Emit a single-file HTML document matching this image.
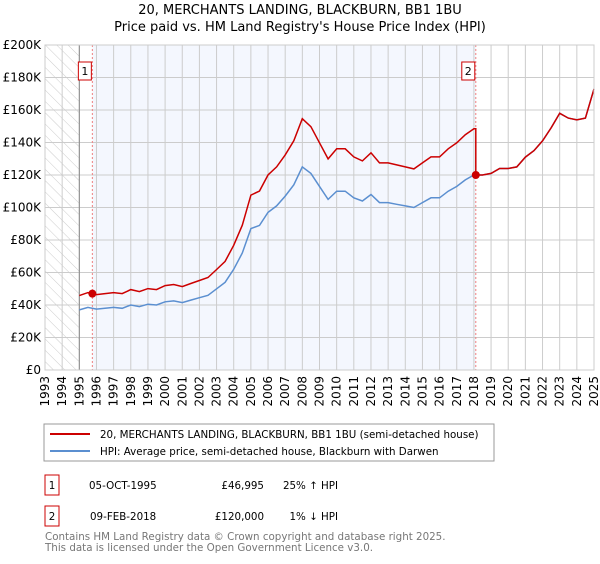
<!DOCTYPE html>
<html><head><meta charset="utf-8"><style>
body{margin:0;background:#fff;font-family:"DejaVu Sans","Liberation Sans",sans-serif;}
svg text{font-family:"DejaVu Sans","Liberation Sans",sans-serif;}
</style></head><body>
<svg id="c" width="600" height="560" xmlns="http://www.w3.org/2000/svg">
<defs><pattern id="hatch" width="8" height="8" patternUnits="userSpaceOnUse" patternTransform="rotate(-45)"><line x1="0" y1="0" x2="0" y2="8" stroke="#ccc" stroke-width="1"/></pattern></defs>
<text x="300" y="14" text-anchor="middle" font-size="13">20, MERCHANTS LANDING, BLACKBURN, BB1 1BU</text>
<text x="300" y="31" text-anchor="middle" font-size="13">Price paid vs. HM Land Registry's House Price Index (HPI)</text>
<g id="plot"></g>
<rect x="44" y="424" width="450" height="37" fill="#fff" stroke="#999"/>
<line x1="50" y1="434" x2="90" y2="434" stroke="#cc0000" stroke-width="2"/>
<text x="100" y="438" font-size="10.3">20, MERCHANTS LANDING, BLACKBURN, BB1 1BU (semi-detached house)</text>
<line x1="50" y1="451" x2="90" y2="451" stroke="#5b8fd0" stroke-width="2"/>
<text x="100" y="455" font-size="10.3">HPI: Average price, semi-detached house, Blackburn with Darwen</text>
<g>
<rect x="45" y="475" width="14" height="20" fill="#fff" stroke="#cc0000"/><text x="52" y="489" font-size="10.3" text-anchor="middle">1</text>
<text x="89" y="489" font-size="10.3">05-OCT-1995</text><text x="264" y="489" font-size="10.3" text-anchor="end">£46,995</text><text x="338" y="489" font-size="10.3" text-anchor="end">25% ↑ HPI</text></g>
<g>
<rect x="45" y="506" width="14" height="20" fill="#fff" stroke="#cc0000"/><text x="52" y="520" font-size="10.3" text-anchor="middle">2</text>
<text x="90" y="520" font-size="10.3">09-FEB-2018</text><text x="264" y="520" font-size="10.3" text-anchor="end">£120,000</text><text x="338" y="520" font-size="10.3" text-anchor="end">1% ↓ HPI</text></g>
<text x="45" y="540" font-size="10.3" fill="#777">Contains HM Land Registry data © Crown copyright and database right 2025.</text>
<text x="45" y="551" font-size="10.3" fill="#777">This data is licensed under the Open Government Licence v3.0.</text>
</svg>
<script>
const years=[1995,1995.5,1996,1996.5,1997,1997.5,1998,1998.5,1999,1999.5,2000,2000.5,2001,2001.5,2002,2002.5,2003,2003.5,2004,2004.5,2005,2005.5,2006,2006.5,2007,2007.5,2008,2008.5,2009,2009.5,2010,2010.5,2011,2011.5,2012,2012.5,2013,2013.5,2014,2014.5,2015,2015.5,2016,2016.5,2017,2017.5,2018,2018.5,2019,2019.5,2020,2020.5,2021,2021.5,2022,2022.5,2023,2023.5,2024,2024.5,2025];
const hpi=[37,38.5,37.5,38,38.5,38,40,39,40.5,40,42,42.5,41.5,43,44.5,46,50,54,62,72,87,89,97,101,107,114,125,121,113,105,110,110,106,104,108,103,103,102,101,100,103,106,106,110,113,117,120,120,121,124,124,125,131,135,141,149,158,155,154,155,173];
const saleYears=[1995.76,2018.11];
const salePrices=[46.995,120];
const yTicks=[0,20,40,60,80,100,120,140,160,180,200];
const xTicks=[1993,1994,1995,1996,1997,1998,1999,2000,2001,2002,2003,2004,2005,2006,2007,2008,2009,2010,2011,2012,2013,2014,2015,2016,2017,2018,2019,2020,2021,2022,2023,2024,2025];
const X0=45,X1=594,Y0=370,Y1=45;
const xs=y=>X0+(y-1993)/(2025-1993)*(X1-X0);
const ys=v=>Y0-v/200*(Y0-Y1);
const NS="http://www.w3.org/2000/svg";
const g=document.getElementById('plot');
function mk(t,a){const e=document.createElementNS(NS,t);for(const k in a)e.setAttribute(k,a[k]);g.appendChild(e);return e;}
let e=mk('rect',{x:X0,y:Y1,width:X1-X0,height:Y0-Y1,fill:'#fff'});


e=mk('rect',{x:X0,y:Y1,width:xs(1995)-X0,height:Y0-Y1,fill:'url(#hatch)'});


e=mk('rect',{x:xs(saleYears[0]),y:Y1,width:xs(saleYears[1])-xs(saleYears[0]),height:Y0-Y1,fill:'#f4f7fe'});


xTicks.forEach(t=>{
 e=mk('line',{x1:xs(t),x2:xs(t),y1:Y1,y2:Y0,stroke:'#ccc'});
 
 
 e=mk('text',{x:0,y:0,'font-size':12,'text-anchor':'end',transform:`translate(${xs(t)+4},${Y0+6}) rotate(-90)`});
 e.textContent=t;
 
 
});
yTicks.forEach(t=>{
 e=mk('line',{x1:X0,x2:X1,y1:ys(t),y2:ys(t),stroke:'#ccc'});
 
 
 e=mk('text',{x:X0-4,y:ys(t)+4,'font-size':12,'text-anchor':'end'});
 e.textContent=t===0?'£0':'£'+t+'K';
 
 
});
e=mk('line',{x1:xs(1995),x2:xs(1995),y1:Y1,y2:Y0,stroke:'#888'});


saleYears.forEach((s,i)=>{
 e=mk('line',{x1:xs(s),x2:xs(s),y1:Y1,y2:Y0,stroke:'#f08080','stroke-dasharray':'2,2'});
 
 
});
function hpiAt(y){for(let i=0;i<years.length-1;i++){if(y>=years[i]&&y<=years[i+1]){const f=(y-years[i])/(years[i+1]-years[i]);return hpi[i]+f*(hpi[i+1]-hpi[i]);}}return hpi[hpi.length-1];}
const r1=salePrices[0]/hpiAt(saleYears[0]), r2=salePrices[1]/hpiAt(saleYears[1]);
let hp=years.map((y,i)=>`${i?'L':'M'}${xs(y).toFixed(1)},${ys(hpi[i]).toFixed(1)}`).join('');
let rp=[];
years.forEach((y,i)=>{if(y<saleYears[1])rp.push([y,hpi[i]*r1]);});
rp.push([saleYears[1],hpiAt(saleYears[1])*r1]);rp.push([saleYears[1],salePrices[1]]);
years.forEach((y,i)=>{if(y>saleYears[1])rp.push([y,hpi[i]*r2]);});
e=mk('path',{d:hp,fill:'none',stroke:'#5b8fd0','stroke-width':1.5});


e=mk('path',{d:rp.map((p,i)=>`${i?'L':'M'}${xs(p[0]).toFixed(1)},${ys(p[1]).toFixed(1)}`).join(''),fill:'none',stroke:'#cc0000','stroke-width':1.5});


saleYears.forEach((s,i)=>{
 e=mk('circle',{cx:xs(s),cy:ys(salePrices[i]),r:4,fill:'#cc0000'});
 
 
 e=mk('rect',{x:xs(s)-14,y:62,width:13,height:18,fill:'#fff',stroke:'#cc0000'});
 
 
 e=mk('text',{x:xs(s)-7.5,y:75,'font-size':11,'text-anchor':'middle'});
 e.textContent=String(i+1);
 
 
});
e=mk('rect',{x:X0,y:Y1,width:X1-X0,height:Y0-Y1,fill:'none',stroke:'#ccc'});


</script>
</body></html>
